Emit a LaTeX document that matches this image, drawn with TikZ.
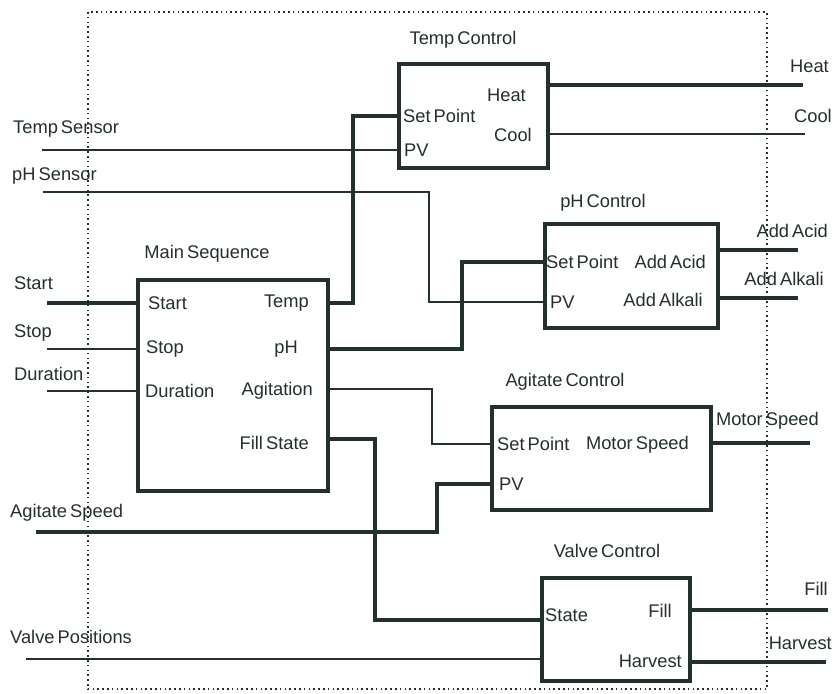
\documentclass[tikz,border=0pt]{standalone}
\usepackage{fontspec}
\setmainfont[WordSpace=0.6]{Liberation Sans}
\begin{document}
\begin{tikzpicture}[x=1pt,y=-1pt,
  boxnode/.style={draw=inkc, line width=3.6pt, anchor=north west, inner sep=0pt},
  lbl/.style={text=inkc, font=\fontsize{18.3}{20}\selectfont, inner sep=0pt},
  thickln/.style={draw=inkc, line width=3.4pt},
  midln/.style={draw=inkc, line width=2.6pt},
  thinln/.style={draw=inkc, line width=1.6pt}]
\definecolor{inkc}{RGB}{36,48,42}
\useasboundingbox (0,0) rectangle (834,693);
\fill[white] (0,0) rectangle (834,693);
% frame
\draw[draw=inkc, line width=1.6pt, dash pattern=on 1.6pt off 3.2pt] (88,12) rectangle (767,689);

% boxes
\node[boxnode, minimum width=149pt, minimum height=104pt] (tc) at (397,62) {};
\node[boxnode, minimum width=173pt, minimum height=104pt] (pc) at (543,222) {};
\node[boxnode, minimum width=190pt, minimum height=211pt] (ms) at (136,278) {};
\node[boxnode, minimum width=219pt, minimum height=103pt] (ac) at (490,405) {};
\node[boxnode, minimum width=148pt, minimum height=103pt] (vc) at (540,576) {};

% titles
\node[lbl] (tcT) at (463,40) {Temp Control};
\node[lbl] (pcT) at (603,203) {pH Control};
\node[lbl] (msT) at (207,254) {Main Sequence};
\node[lbl] (acT) at (565,382) {Agitate Control};
\node[lbl] (vcT) at (607,551) {Valve Control};

% port labels
\node[lbl, anchor=west] (tcSPL) at (403,116) {Set Point};
\node[lbl, anchor=west] (tcPVL) at (404,150) {PV};
\node[lbl, anchor=east] (tcHeatL) at (526,95) {Heat};
\node[lbl, anchor=east] (tcCoolL) at (532,135) {Cool};

\node[lbl, anchor=west] (pcSPL) at (546,262) {Set Point};
\node[lbl, anchor=west] (pcPVL) at (550,302) {PV};
\node[lbl, anchor=east] (pcAcL) at (706,262) {Add Acid};
\node[lbl, anchor=east] (pcAlL) at (703,300) {Add Alkali};

\node[lbl, anchor=west] (msStartL) at (148,303) {Start};
\node[lbl, anchor=west] (msStopL) at (146,349) {Stop};
\node[lbl, anchor=west] (msDurL) at (145,391) {Duration};
\node[lbl, anchor=east] (msTempL) at (309,303) {Temp};
\node[lbl, anchor=east] (msPHL) at (298,349) {pH};
\node[lbl, anchor=east] (msAgL) at (313,391) {Agitation};
\node[lbl, anchor=east] (msFSL) at (309,443) {Fill State};

\node[lbl, anchor=west] (acSPL) at (497,444) {Set Point};
\node[lbl, anchor=west] (acPVL) at (499,484) {PV};
\node[lbl, anchor=east] (acMSL) at (689,445) {Motor Speed};

\node[lbl, anchor=west] (vcStL) at (545,615) {State};
\node[lbl, anchor=east] (vcFillL) at (672,611) {Fill};
\node[lbl, anchor=east] (vcHarvL) at (682,661) {Harvest};

% external labels
\node[lbl, anchor=west] (tsL) at (13,129) {Temp Sensor};
\node[lbl, anchor=west] (phsL) at (12,176) {pH Sensor};
\node[lbl, anchor=west] (startL) at (14,283) {Start};
\node[lbl, anchor=west] (stopL) at (14,333) {Stop};
\node[lbl, anchor=west] (durL) at (14,374) {Duration};
\node[lbl, anchor=west] (asL) at (10,513) {Agitate Speed};
\node[lbl, anchor=west] (vpL) at (10,637) {Valve Positions};

\node[lbl, anchor=east] (heatL) at (829,66) {Heat};
\node[lbl, anchor=east] (coolL) at (832,116) {Cool};
\node[lbl, anchor=east] (acidL) at (828,231) {Add Acid};
\node[lbl, anchor=east] (alkL) at (824,279) {Add Alkali};
\node[lbl, anchor=east] (motL) at (819,421) {Motor Speed};
\node[lbl, anchor=east] (fillL) at (828,589) {Fill};
\node[lbl, anchor=east] (harvL) at (832,643) {Harvest};

% free ends
\coordinate (tsE) at (42,150);
\coordinate (phsE) at (43,192);
\coordinate (startE) at (47,303);
\coordinate (stopE) at (47,349);
\coordinate (durE) at (47,391);
\coordinate (asE) at (36,532);
\coordinate (vpE) at (26,659);
\coordinate (heatE) at (803,85);
\coordinate (coolE) at (805,134);
\coordinate (acidE) at (798,250);
\coordinate (alkE) at (798,298);
\coordinate (motE) at (810,443);
\coordinate (fillE) at (828,610);
\coordinate (harvE) at (826,662);

% inputs
\draw[thinln] (tsE) -- (tc.west |- tsE);
\draw[midln] (phsE) -- (429,192) |- (pc.west |- pcPVL);
\draw[thickln] (startE) -- (ms.west |- startE);
\draw[thinln] (stopE) -- (ms.west |- stopE);
\draw[thinln] (durE) -- (ms.west |- durE);
\draw[thickln] (asE) -- (437,532) |- (ac.west |- acPVL);
\draw[thinln] (vpE) -- (vc.west |- vpE);

% internal links
\draw[thickln] (ms.east |- msTempL) -- (353,303) |- (tc.west |- tcSPL);
\draw[thickln] (ms.east |- msPHL) -- (462,349) |- (pc.west |- pcSPL);
\draw[thinln] (ms.east |- 0,389) -- (432,389) |- (ac.west |- acSPL);
\draw[thickln] (ms.east |- 0,439) -- (375,439) |- (vc.west |- 0,620);

% outputs
\draw[thickln] (tc.east |- heatE) -- (heatE);
\draw[thinln] (tc.east |- coolE) -- (coolE);
\draw[thickln] (pc.east |- acidE) -- (acidE);
\draw[thickln] (pc.east |- alkE) -- (alkE);
\draw[thickln] (ac.east |- motE) -- (motE);
\draw[thickln] (vc.east |- fillE) -- (fillE);
\draw[thickln] (vc.east |- harvE) -- (harvE);
\end{tikzpicture}
\end{document}
